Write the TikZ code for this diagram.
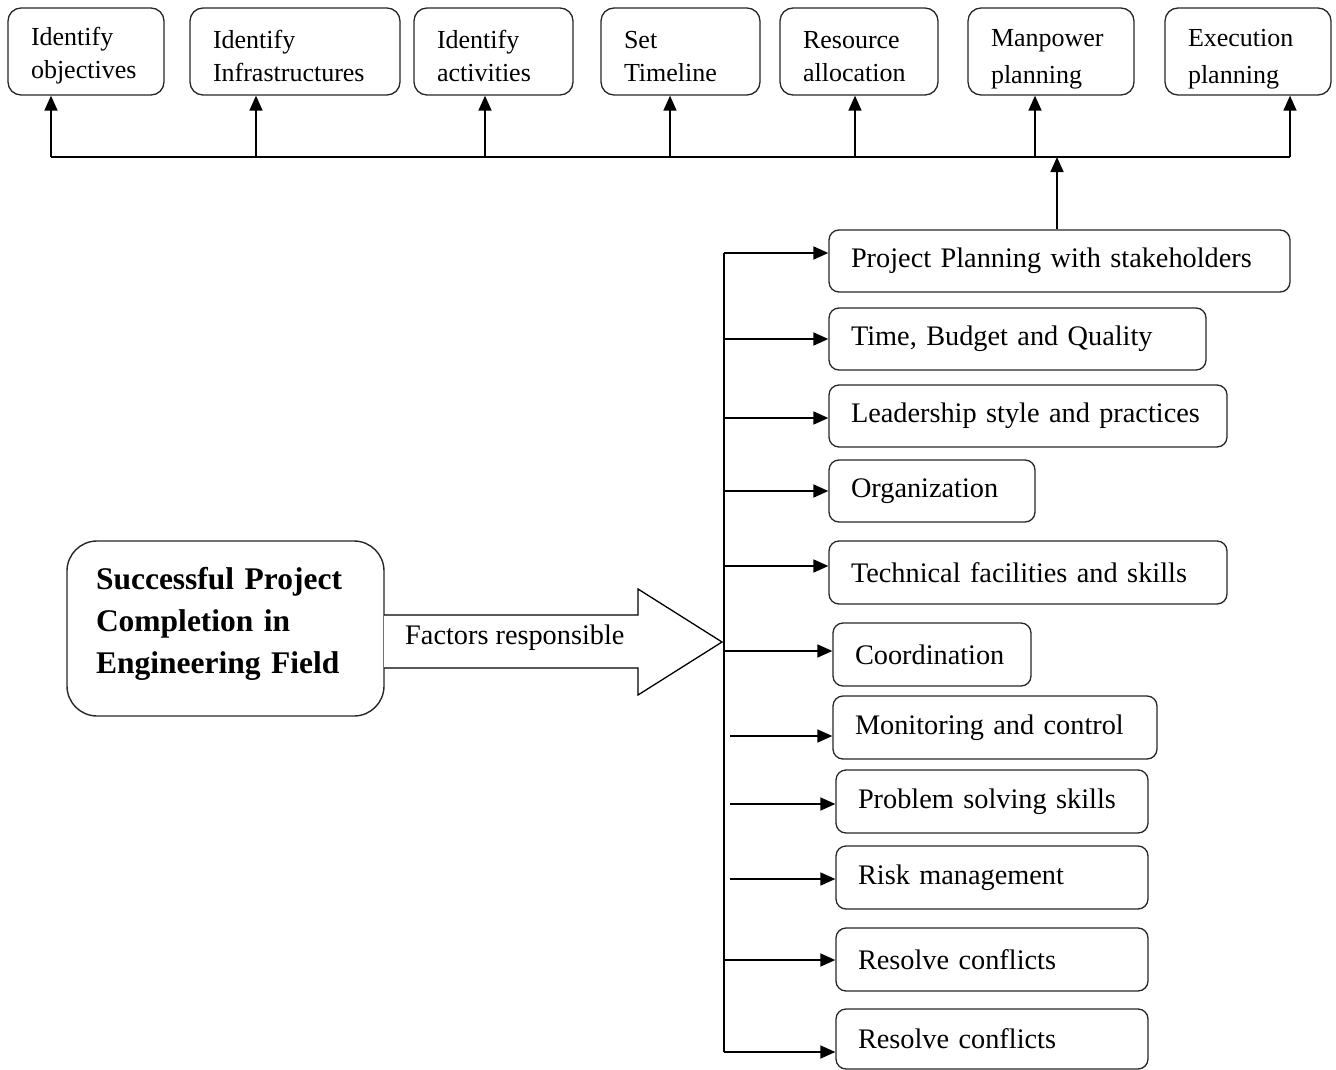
\documentclass[tikz,border=0pt]{standalone}
\usepackage{fontspec}
\setmainfont{Liberation Serif}
\usetikzlibrary{arrows.meta}
\hyphenpenalty=10000
\exhyphenpenalty=10000
\newcommand{\tstrut}{\rule{0pt}{27pt}}
\newcommand{\tstrutb}{\rule{0pt}{33pt}}
\tikzset{
  topbox/.style={draw=black!85, line width=1.3pt, rounded corners=13pt, inner xsep=23pt, inner ysep=2pt,
     align=left, font=\fontsize{26}{33}\selectfont, minimum height=87pt},
  facbox/.style={draw=black!85, line width=1.3pt, rounded corners=10pt, inner xsep=22pt, inner ysep=2pt,
     align=left, font=\fontsize{28.3}{35}\selectfont, minimum height=62pt},
  mainbox/.style={draw=black!85, line width=1.4pt, rounded corners=30pt, inner xsep=29pt,
     align=left, font=\bfseries\fontsize{31.5}{42}\selectfont, minimum height=175pt},
  arr/.style={line width=1.6pt, -{Triangle[length=15pt,width=13pt]}},
  ln/.style={line width=1.6pt}
}
\begin{document}
\begin{tikzpicture}[x=1pt,y=-1pt]
\useasboundingbox (0,0) rectangle (1336,1070);
% top boxes
\node[topbox, text width=110pt] (t1) at (86,51.5) {\tstrut Identify\\objectives};
\node[topbox, text width=164pt] (t2) at (295,51.5) {\tstrut Identify\\Infrastructures};
\node[topbox, text width=113pt] (t3) at (493.5,51.5) {\tstrut Identify\\activities};
\node[topbox, text width=113pt] (t4) at (680.5,51.5) {\tstrut Set\\Timeline};
\node[topbox, text width=112pt] (t5) at (859,51.5) {\tstrut Resource\\allocation};
\node[topbox, text width=120pt] (t6) at (1051,51.5) {\tstrutb Manpower\\[4pt]planning};
\node[topbox, text width=120pt] (t7) at (1248,51.5) {\tstrutb Execution\\[4pt]planning};
% factor boxes
\node[facbox, text width=417pt] (r1) at (1059.5,261) {Project Planning with stakeholders};
\node[facbox, text width=333pt] (r2) at (1017.5,339) {Time, Budget and Quality};
\node[facbox, text width=354pt] (r3) at (1028,416) {Leadership style and practices};
\node[facbox, text width=162pt] (r4) at (932,491) {Organization};
\node[facbox, text width=354pt, minimum height=63pt] (r5) at (1028,572.5) {Technical facilities and skills};
\node[facbox, text width=154pt, minimum height=63pt] (r6) at (932,654.5) {Coordination};
\node[facbox, text width=280pt, minimum height=63pt] (r7) at (995,727.5) {Monitoring and control};
\node[facbox, text width=268pt, minimum height=63pt] (r8) at (992,801.5) {Problem solving skills};
\node[facbox, text width=268pt, minimum height=63pt] (r9) at (992,877.5) {Risk management};
\node[facbox, text width=268pt, minimum height=63pt] (r10) at (992,959.5) {Resolve conflicts};
\node[facbox, text width=268pt, minimum height=60pt] (r11) at (992,1039) {Resolve conflicts};
% main box
\node[mainbox, text width=259pt, minimum width=317pt] (m) at (225.5,628.5) {Successful Project\\Completion in\\Engineering Field\rule[-16pt]{0pt}{0pt}};
% big arrow
\draw[line width=1.3pt, fill=white, line join=miter] (384,615) -- (638,615) -- (638,589) -- (722,642) -- (638,695) -- (638,668) -- (384,668);
\node[anchor=west, font=\fontsize{28.3}{35}\selectfont, inner sep=0pt] (fr) at (405,638) {Factors responsible};
% top bus
\coordinate (b1) at (51,157);
\coordinate (b2) at (256,157);
\coordinate (b3) at (485,157);
\coordinate (b4) at (670,157);
\coordinate (b5) at (855,157);
\coordinate (b6) at (1035,157);
\coordinate (b7) at (1290,157);
\draw[ln] (b1) -- (b7);
\foreach \i in {1,...,7} {\draw[arr] (b\i) -- (b\i |- t\i.south);}
\draw[arr] (r1.north -| 1057,0) -- (1057,157);
% right bus
\coordinate (a1) at (724,253);
\coordinate (a2) at (724,339);
\coordinate (a3) at (724,418);
\coordinate (a4) at (724,491);
\coordinate (a5) at (724,566);
\coordinate (a6) at (724,651);
\coordinate (a7) at (730,736);
\coordinate (a8) at (730,804);
\coordinate (a9) at (730,879);
\coordinate (a10) at (724,960);
\coordinate (a11) at (724,1052);
\draw[ln] (a1) -- (a11);
\foreach \i in {1,...,11} {\draw[arr] (a\i) -- (a\i -| r\i.west);}
\end{tikzpicture}
\end{document}
